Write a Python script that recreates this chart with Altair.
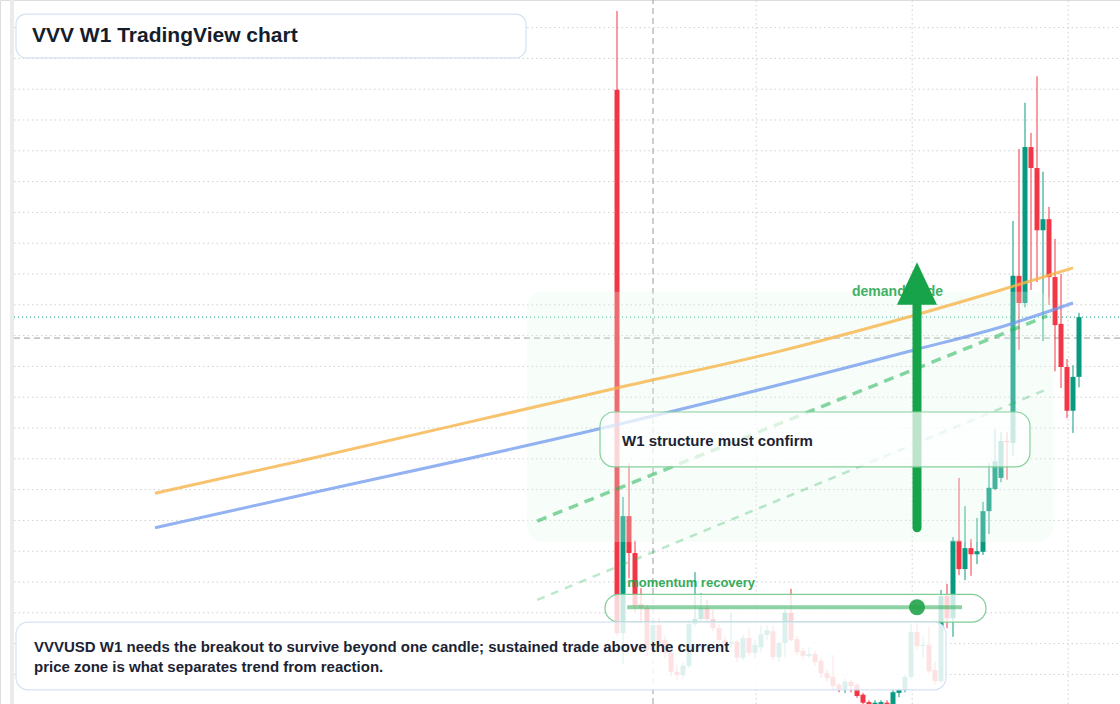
import altair as alt
import pandas as pd

# ---------------- data (weekly VVVUSD candles) ----------------
opens = [10.99, 2.17, 4.07, 3.47, 2.64, 2.58, 1.90, 2.30, 2.06, 1.85,
         1.54, 1.49, 1.64, 2.32, 2.40, 2.58, 2.40, 2.25, 2.06, 2.00,
         2.03, 1.77, 2.09, 1.85, 1.94, 2.14, 2.20, 1.78, 2.01, 2.50,
         2.07, 1.88, 1.80, 1.83, 1.72, 1.52, 1.46, 1.33, 1.26, 1.38,
         1.33, 1.17, 1.05, 1.00, 1.02, 1.04, 1.02, 1.20, 1.25, 1.46,
         2.19, 1.96, 1.98, 1.57, 1.39, 2.77, 2.41, 3.67, 3.21, 3.55,
         3.45, 3.49, 4.15, 4.51, 4.69, 5.29, 5.26, 7.97, 7.53, 10.06,
         9.72, 8.71, 8.89, 7.95, 7.19, 6.49, 5.78, 6.33]
highs = [12.27, 4.38, 4.93, 3.67, 2.90, 2.63, 2.38, 2.41, 2.12, 1.90,
         1.65, 1.70, 2.38, 3.16, 2.82, 2.71, 2.55, 2.32, 2.12, 2.50,
         2.06, 2.14, 2.25, 2.06, 2.30, 2.30, 2.30, 2.04, 2.55, 2.89,
         2.12, 1.93, 1.94, 1.88, 1.77, 1.57, 1.81, 1.36, 1.43, 1.41,
         1.36, 1.20, 1.08, 1.08, 1.08, 1.08, 1.25, 1.28, 1.49, 2.32,
         2.33, 2.11, 2.27, 1.70, 2.87, 2.97, 3.73, 4.69, 4.23, 3.70,
         4.04, 4.30, 4.93, 5.48, 5.43, 5.43, 8.86, 10.03, 10.78, 10.29,
         11.21, 9.66, 9.09, 8.57, 8.00, 6.62, 6.52, 7.37]
lows = [2.12, 1.67, 3.06, 2.51, 2.35, 1.80, 1.83, 1.93, 1.77, 1.47,
        1.41, 1.43, 1.60, 2.27, 2.37, 2.35, 2.20, 2.00, 1.94, 1.93,
        1.70, 1.73, 1.80, 1.77, 1.86, 2.06, 1.73, 1.70, 1.78, 2.03,
        1.81, 1.73, 1.77, 1.64, 1.44, 1.38, 1.25, 1.21, 1.20, 1.21,
        1.12, 0.99, 0.94, 0.94, 0.97, 0.99, 0.99, 1.13, 1.21, 1.43,
        1.90, 1.77, 1.52, 1.34, 1.36, 2.25, 2.11, 3.11, 3.03, 3.10,
        3.29, 3.44, 3.78, 4.49, 4.62, 4.66, 5.05, 6.77, 7.46, 7.74,
        7.87, 6.91, 7.50, 6.42, 6.15, 5.66, 5.42, 6.16]
closes = [2.17, 4.07, 3.47, 2.61, 2.58, 1.90, 2.30, 2.01, 1.85, 1.54,
          1.49, 1.64, 2.32, 2.40, 2.58, 2.40, 2.25, 2.06, 2.01, 2.03,
          1.77, 2.09, 1.85, 1.98, 2.15, 2.22, 1.78, 2.01, 2.50, 2.06,
          1.86, 1.80, 1.83, 1.70, 1.52, 1.44, 1.31, 1.26, 1.38, 1.31,
          1.15, 1.04, 1.00, 1.04, 1.05, 1.02, 1.21, 1.25, 1.46, 2.19,
          1.96, 1.98, 1.55, 1.39, 2.77, 2.41, 3.67, 3.21, 3.55, 3.45,
          3.50, 4.15, 4.53, 4.96, 5.29, 5.27, 7.97, 7.53, 10.06, 9.72,
          8.71, 8.89, 7.95, 7.17, 6.49, 5.78, 6.33, 7.30]
bar_index = list(range(len(opens)))

# moving-average style lines (bar index, price)
ma_slow_bar = [-77, -53, 0, 26, 64, 76]
ma_slow_val = [4.44, 4.96, 6.15, 6.72, 7.74, 8.10]
ma_fast_bar = [-77, -53, -4.5, 49.7, 64, 76]
ma_fast_val = [3.88, 4.40, 5.45, 6.77, 7.14, 7.53]

# rising channel (dashed)
channel_bar = [-13.3, 71.7]
channel_upper = [3.99, 7.32]
channel_lower_bar = [-13.3, 72.2]
channel_lower = [2.71, 6.15]

grid_prices = [1.5, 2.0, 2.5, 3.0, 3.5, 4.0, 4.5, 5.0, 5.5, 6.0, 6.5, 7.0,
               7.5, 8.0, 8.5, 9.0, 9.5, 10.0, 10.5, 11.0, 11.5, 12.0]
grid_bars = [23.2, 49.2, 75.2]
crosshair_bar = 6
crosshair_price = 6.96

# annotation zones
demand_zone = {"x": -15, "x2": 72.7, "y": 7.71, "y2": 3.65}
arrow_bar = 50
arrow_half = 3.33
arrow_from, arrow_to, arrow_tip = 3.88, 7.50, 8.19
momentum_level = 2.59
momentum_from, momentum_to = 1.7, 57.5

title_text = "VVV W1 TradingView chart"
confirm_text = "W1 structure must confirm"
momentum_text = "momentum recovery"
zone_text = "demand node"
note_text = ("VVVUSD W1 needs the breakout to survive beyond one candle; sustained trade above the current\n"
             "price zone is what separates trend from reaction.")

# ---------------- scales ----------------
XMIN, XMAX = -102.833, 83.833
YMIN, YMAX = 1.0195, 12.448
xs = alt.Scale(domain=[XMIN, XMAX], nice=False, zero=False, padding=0)
ys = alt.Scale(domain=[YMIN, YMAX], nice=False, zero=False, padding=0)
LEFT = -100.5
FONT = "Liberation Sans"
RED, GREEN = "#f23645", "#089981"


def X(f):
    return alt.X(f, type="quantitative", scale=xs, axis=None)


def Y(f):
    return alt.Y(f, type="quantitative", scale=ys, axis=None)


candles = pd.DataFrame({"i": bar_index, "open": opens, "high": highs,
                        "low": lows, "close": closes})
candles["dir"] = ["up" if c >= o else "down" for o, c in zip(opens, closes)]
col = alt.Color("dir:N", scale=alt.Scale(domain=["up", "down"], range=[GREEN, RED]), legend=None)

strip = alt.Chart(pd.DataFrame({"x": [-101.17], "x2": [LEFT], "y": [YMIN], "y2": [YMAX]})).mark_rect(
    color="#ebebeb").encode(x=X("x"), x2="x2", y=Y("y"), y2="y2")

hgrid = alt.Chart(pd.DataFrame({"p": grid_prices, "x": LEFT, "x2": XMAX})).mark_rule(
    color="#cfcfcf", strokeWidth=1, strokeDash=[1.5, 3]).encode(x=X("x"), x2="x2", y=Y("p"))
vgrid = alt.Chart(pd.DataFrame({"b": grid_bars, "y": YMIN, "y2": YMAX})).mark_rule(
    color="#cfcfcf", strokeWidth=1, strokeDash=[1.5, 3]).encode(x=X("b"), y=Y("y"), y2="y2")

cross_h = alt.Chart(pd.DataFrame({"p": [crosshair_price], "x": LEFT, "x2": XMAX})).mark_rule(
    color="#9a9a9a", strokeWidth=1, strokeDash=[6, 4]).encode(x=X("x"), x2="x2", y=Y("p"))
cross_v = alt.Chart(pd.DataFrame({"b": [crosshair_bar], "y": YMIN, "y2": YMAX})).mark_rule(
    color="#9a9a9a", strokeWidth=1, strokeDash=[6, 4]).encode(x=X("b"), y=Y("y"), y2="y2")
last_line = alt.Chart(pd.DataFrame({"p": [closes[-1]], "x": LEFT, "x2": XMAX})).mark_rule(
    color=GREEN, strokeWidth=1, strokeDash=[1, 3]).encode(x=X("x"), x2="x2", y=Y("p"))

wicks = alt.Chart(candles).mark_rule(strokeWidth=1, clip=True).encode(
    x=X("i"), y=Y("low"), y2="high", color=col)
bodies = alt.Chart(candles).mark_bar(size=5, clip=True).encode(
    x=X("i"), y=Y("open"), y2="close", color=col)

zone = alt.Chart(pd.DataFrame([demand_zone])).mark_rect(
    color="#e3f7e9", opacity=0.28, cornerRadius=16).encode(x=X("x"), x2="x2", y=Y("y"), y2="y2")

ma_slow = alt.Chart(pd.DataFrame({"b": ma_slow_bar, "v": ma_slow_val})).mark_line(
    color="#f6b44a", opacity=0.8, strokeWidth=3, interpolate="monotone").encode(x=X("b"), y=Y("v"))
ma_fast = alt.Chart(pd.DataFrame({"b": ma_fast_bar, "v": ma_fast_val})).mark_line(
    color="#6f98ee", opacity=0.75, strokeWidth=3, interpolate="monotone").encode(x=X("b"), y=Y("v"))

ch_up = alt.Chart(pd.DataFrame({"b": channel_bar, "v": channel_upper})).mark_line(
    color="#22b455", opacity=0.55, strokeWidth=3.5, strokeDash=[10, 7]).encode(x=X("b"), y=Y("v"))
ch_lo = alt.Chart(pd.DataFrame({"b": channel_lower_bar, "v": channel_lower})).mark_line(
    color="#22b455", opacity=0.3, strokeWidth=2.5, strokeDash=[8, 7]).encode(x=X("b"), y=Y("v"))

zone_label = alt.Chart(pd.DataFrame({"x": [39.17], "y": [demand_zone["y"]], "t": [zone_text]})).mark_text(
    font=FONT, fontWeight="bold", fontSize=14, color="#22a34a", opacity=0.85, align="left",
    baseline="middle").encode(x=X("x"), y=Y("y"), text="t:N")

shaft = alt.Chart(pd.DataFrame({"b": [arrow_bar], "y": [arrow_from], "y2": [arrow_to]})).mark_rule(
    color="#16a34a", strokeWidth=9, strokeCap="round").encode(x=X("b"), y=Y("y"), y2="y2")
head = alt.Chart(pd.DataFrame({"b": [arrow_bar - arrow_half, arrow_bar, arrow_bar + arrow_half],
                               "y": [arrow_to, arrow_tip, arrow_to], "y2": [arrow_to] * 3})).mark_area(
    color="#16a34a", opacity=1).encode(x=X("b"), y=Y("y"), y2="y2")

confirm_box = alt.Chart(pd.DataFrame({"x": [-2.83], "x2": [68.83], "y": [5.76], "y2": [4.87]})).mark_rect(
    fill="white", fillOpacity=0.72, stroke="#86d09c", strokeWidth=1.2, cornerRadius=14).encode(
    x=X("x"), x2="x2", y=Y("y"), y2="y2")
confirm_label = alt.Chart(pd.DataFrame({"x": [0.83], "y": [5.29], "t": [confirm_text]})).mark_text(
    font=FONT, fontWeight="bold", fontSize=15, color="#1b2333", align="left", baseline="middle").encode(
    x=X("x"), y=Y("y"), text="t:N")

mom_box = alt.Chart(pd.DataFrame({"x": [-2.0], "x2": [61.5], "y": [2.80], "y2": [2.35]})).mark_rect(
    fill="white", fillOpacity=0.78, stroke="#7fcc96", strokeWidth=1.2, cornerRadius=14).encode(
    x=X("x"), x2="x2", y=Y("y"), y2="y2")
mom_line = alt.Chart(pd.DataFrame({"x": [momentum_from], "x2": [momentum_to], "y": [momentum_level]})).mark_rule(
    color="#3fb466", opacity=0.6, strokeWidth=4).encode(x=X("x"), x2="x2", y=Y("y"))
mom_dot = alt.Chart(pd.DataFrame({"x": [arrow_bar], "y": [momentum_level]})).mark_point(
    shape="circle", filled=True, size=256, color="#22a34a", opacity=0.9).encode(x=X("x"), y=Y("y"))
mom_label = alt.Chart(pd.DataFrame({"x": [1.7], "y": [2.98], "t": [momentum_text]})).mark_text(
    font=FONT, fontWeight="bold", fontSize=13, color="#22a34a", opacity=0.9, align="left",
    baseline="middle").encode(x=X("x"), y=Y("y"), text="t:N")

note_box = alt.Chart(pd.DataFrame({"x": [-100.17], "x2": [54.83], "y": [2.35], "y2": [1.25]})).mark_rect(
    fill="white", fillOpacity=0.86, stroke="#d5e2f6", strokeWidth=1.2, cornerRadius=12).encode(
    x=X("x"), x2="x2", y=Y("y"), y2="y2")
note_label = alt.Chart(pd.DataFrame({"x": [-97.17], "y": [1.94], "t": [note_text]})).mark_text(
    font=FONT, fontWeight="bold", fontSize=15, color="#1b2333", align="left", baseline="middle",
    lineBreak="\n", lineHeight=20).encode(x=X("x"), y=Y("y"), text="t:N")

title_box = alt.Chart(pd.DataFrame({"x": [-100.17], "x2": [-15.17], "y": [12.22], "y2": [11.51]})).mark_rect(
    fill="white", fillOpacity=0.95, stroke="#d5e2f6", strokeWidth=1.2, cornerRadius=10).encode(
    x=X("x"), x2="x2", y=Y("y"), y2="y2")
title_label = alt.Chart(pd.DataFrame({"x": [-97.5], "y": [11.86], "t": [title_text]})).mark_text(
    font=FONT, fontWeight="bold", fontSize=21, color="#151d2b", align="left", baseline="middle").encode(
    x=X("x"), y=Y("y"), text="t:N")

chart = alt.layer(
    strip, hgrid, vgrid, cross_h, cross_v, last_line,
    wicks, bodies, zone, ma_slow, ma_fast, ch_up, ch_lo,
    zone_label, shaft, head,
    confirm_box, confirm_label,
    mom_box, mom_line, mom_dot, mom_label,
    note_box, note_label, title_box, title_label,
).properties(
    width=1120, height=704, padding=0,
    autosize=alt.AutoSizeParams(type="none"),
).configure_view(strokeWidth=0).configure(background="white")

chart.save("out.html", embed_options={"renderer": "svg", "actions": False})
